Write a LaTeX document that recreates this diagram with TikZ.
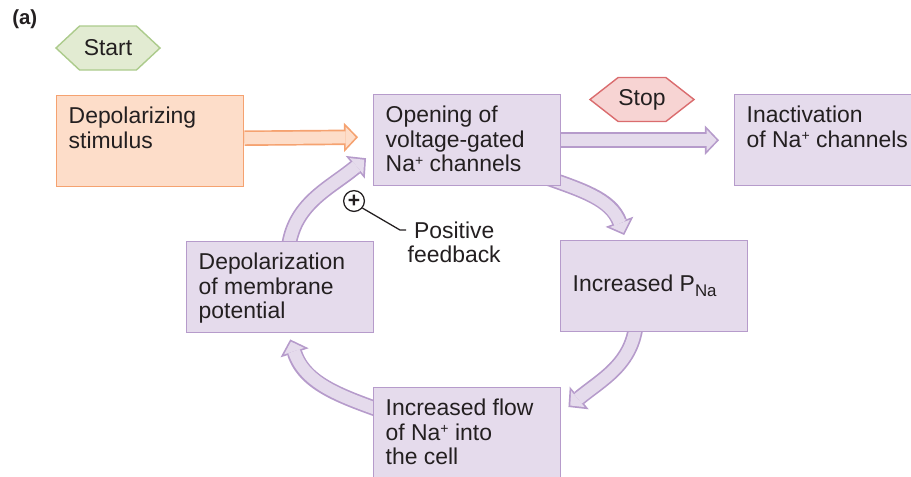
\documentclass[tikz,border=0pt]{standalone}
\usepackage{fontspec}
\setmainfont{Liberation Sans}
\definecolor{boxfill}{RGB}{229,219,236}
\definecolor{boxline}{RGB}{182,155,203}
\definecolor{orfill}{RGB}{253,221,201}
\definecolor{orline}{RGB}{245,162,112}
\definecolor{gofill}{RGB}{226,235,210}
\definecolor{goline}{RGB}{172,203,140}
\definecolor{stopfill}{RGB}{247,212,211}
\definecolor{stopline}{RGB}{218,108,110}
\definecolor{inkgray}{RGB}{35,31,32}
\usetikzlibrary{arrows.meta,positioning,shapes.symbols,calc,backgrounds}
\newcommand{\boxtext}[2][t]{\parbox[t][1.725cm][#1]{4.075cm}{\strut #2}}
\newcommand{\nap}{Na\raisebox{0.55ex}{\fontsize{10}{10}\selectfont +}}

\begin{document}
\begin{tikzpicture}[x=0.025cm, y=0.025cm,
  every node/.style={text=inkgray, font=\fontsize{16.3}{17.4}\selectfont},
  pbox/.style={rectangle, draw=boxline, fill=boxfill, line width=1pt,
               anchor=north west, inner xsep=0.3cm, inner ysep=0.275cm,
               minimum width=4.675cm, minimum height=2.275cm},
  obox/.style={pbox, draw=orline, fill=orfill},
  hexa/.style={signal, signal to=west and east, signal pointer angle=86,
               line width=1pt, minimum width=2.6cm, minimum height=1.1cm,
               inner sep=0pt},
  fat/.style 2 args={draw=#1, line width=11pt,
               -{Triangle[length=10pt,width=21pt,line width=0pt]},
               postaction={draw=#2, line width=8.6pt, shorten >=1.66pt,
               -{Triangle[length=7.14pt,width=15pt,line width=0pt]}}}
]
\useasboundingbox (0,0) rectangle (911,-476);

% Label and start/stop tags
\node[font=\bfseries\fontsize{14.5}{16}\selectfont, anchor=base west, inner sep=0pt] (tag) at (12,-24) {(a)};
\node[hexa, draw=goline, fill=gofill] (start) at (108,-48) {Start};
\node[hexa, draw=stopline, fill=stopfill, signal pointer angle=76] (stop) at (642,-99.5) {Stop};

% Boxes
\node[obox] (stim)  at (56,-95)   {\boxtext{Depolarizing\\stimulus}};
\node[pbox] (open)  at (373,-94)  {\boxtext{Opening of\\voltage-gated\\\nap{} channels}};
\node[pbox] (inact) at (734,-94)  {\boxtext{Inactivation\\of \nap{} channels}};
\node[pbox] (depol) at (186,-241) {\boxtext{Depolarization\\of membrane\\potential}};
\node[pbox] (pna)   at (560,-240) {\boxtext[c]{Increased P\raisebox{-4pt}{\fontsize{12}{12}\selectfont Na}}};
\node[pbox] (flow)  at (373,-387) {\boxtext{Increased flow\\of \nap{} into\\the cell}};

% Positive feedback mark
\node[circle, draw=inkgray, line width=0.9pt, minimum size=0.52cm, inner sep=0pt,
      font=\bfseries\fontsize{15}{15}\selectfont] (plus) at (354,-201) {+};
\node[align=center, inner sep=1pt, anchor=north west] (fb) at (406,-220) {Positive\\feedback};
\coordinate (kink) at (400,-230);
\draw[line width=0.9pt, draw=inkgray] (plus.-40) -- (kink) -- (kink -| fb.west);

% Fat arrows
\begin{scope}[on background layer]
\draw[fat={orline}{orfill}] ($(stim.east)+(0,3)$) -- ($(open.west)+(-15,3)$);
\draw[fat={boxline}{boxfill}] (open.east) -- ($(inact.west)+(-15,0)$);
\draw[fat={boxline}{boxfill}] ($(open.south east)+(-18,10)$) to[out=-20, in=110] ($(pna.north)+(-30,5)$);
\draw[fat={boxline}{boxfill}] ($(pna.south)+(-18,10)$) to[out=-95, in=40] ($(flow.north east)+(7,-20)$);
\draw[fat={boxline}{boxfill}] ($(flow.west)+(15,20)$) to[out=160, in=-72] ($(depol.south)+(10,-6)$);
\draw[fat={boxline}{boxfill}] ($(depol.north)+(8,-10)$) to[out=85, in=220] ($(open.west)+(-7,-18)$);
\end{scope}
\end{tikzpicture}
\end{document}
